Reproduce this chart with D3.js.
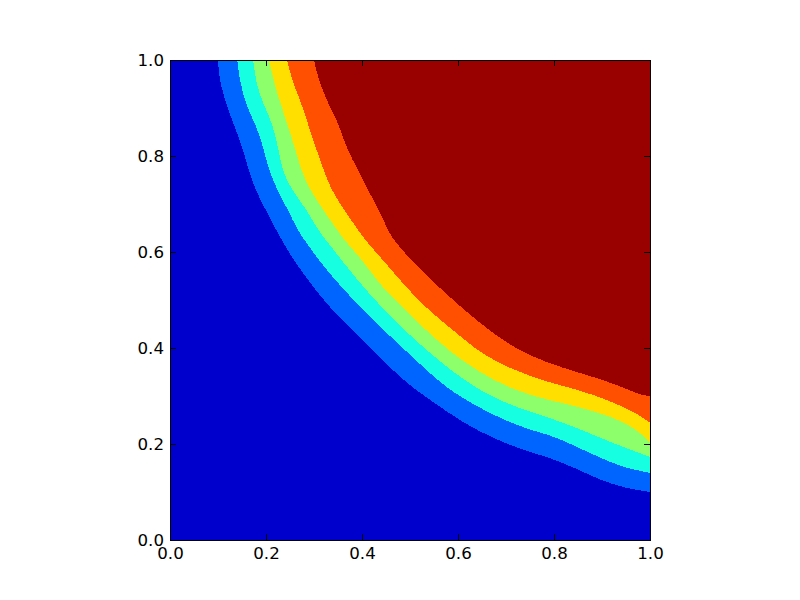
<!DOCTYPE html>
<html>
<head>
<meta charset="utf-8">
<script src="https://cdn.jsdelivr.net/npm/d3@7"></script>
<style>
  html, body { margin: 0; padding: 0; background: #ffffff; }
  svg { display: block; }
</style>
</head>
<body>
<svg id="chart" width="800" height="600"></svg>
<script>
// ---- data ----
const xTicks = [0.0, 0.2, 0.4, 0.6, 0.8, 1.0];
const yTicks = [0.0, 0.2, 0.4, 0.6, 0.8, 1.0];

// band colours (jet), from lowest band to highest
const bandColors = ["#0000cc", "#0064ff", "#16ffe1", "#8cff6b", "#ffdf00", "#ff4f00", "#990000"];

// contour boundaries, each running from the top edge to the right edge [x, y]
const boundary1 = [[0.100,1.000],[0.104,0.948],[0.125,0.885],[0.146,0.833],[0.158,0.792],[0.173,0.740],[0.196,0.694],[0.221,0.646],[0.250,0.594],[0.292,0.535],[0.333,0.483],[0.396,0.423],[0.483,0.333],[0.542,0.292],[0.610,0.244],[0.681,0.208],[0.750,0.183],[0.792,0.171],[0.844,0.150],[0.896,0.125],[0.948,0.108],[1.000,0.100]];
const boundary2 = [[0.140,1.000],[0.146,0.952],[0.160,0.902],[0.181,0.860],[0.194,0.819],[0.204,0.777],[0.223,0.729],[0.246,0.688],[0.265,0.646],[0.283,0.621],[0.313,0.579],[0.344,0.542],[0.375,0.508],[0.417,0.463],[0.479,0.406],[0.556,0.333],[0.604,0.298],[0.681,0.256],[0.750,0.229],[0.792,0.219],[0.844,0.196],[0.896,0.171],[0.948,0.150],[1.000,0.140]];
const boundary3 = [[0.173,1.000],[0.181,0.944],[0.194,0.910],[0.213,0.869],[0.225,0.819],[0.235,0.765],[0.254,0.729],[0.285,0.688],[0.308,0.646],[0.325,0.625],[0.365,0.573],[0.417,0.510],[0.463,0.4625],[0.521,0.406],[0.610,0.333],[0.681,0.292],[0.750,0.267],[0.792,0.254],[0.844,0.235],[0.896,0.213],[0.948,0.192],[1.000,0.173]];
const boundary4 = [[0.206,1.000],[0.219,0.944],[0.233,0.902],[0.246,0.860],[0.260,0.819],[0.271,0.777],[0.288,0.735],[0.319,0.688],[0.348,0.646],[0.363,0.625],[0.406,0.577],[0.4375,0.531],[0.479,0.490],[0.521,0.448],[0.583,0.392],[0.646,0.348],[0.715,0.3125],[0.785,0.292],[0.854,0.277],[0.923,0.256],[0.969,0.233],[1.000,0.204]];
const boundary5 = [[0.244,1.000],[0.254,0.958],[0.271,0.917],[0.285,0.875],[0.298,0.833],[0.308,0.806],[0.327,0.750],[0.348,0.708],[0.392,0.646],[0.406,0.625],[0.458,0.567],[0.506,0.510],[0.5625,0.458],[0.615,0.417],[0.646,0.390],[0.715,0.354],[0.785,0.329],[0.854,0.3125],[0.923,0.2875],[0.979,0.260],[1.000,0.244]];
const boundary6 = [[0.300,1.000],[0.308,0.965],[0.323,0.923],[0.340,0.890],[0.356,0.854],[0.369,0.8125],[0.392,0.771],[0.4125,0.729],[0.435,0.6875],[0.454,0.646],[0.465,0.625],[0.521,0.5625],[0.583,0.506],[0.642,0.454],[0.715,0.400],[0.785,0.369],[0.854,0.348],[0.923,0.327],[0.979,0.302],[1.000,0.300]];
const boundaries = [boundary1, boundary2, boundary3, boundary4, boundary5, boundary6];

// ---- drawing ----
const svg = d3.select("#chart");
const margin = { left: 170, top: 60, size: 480 };

const x = d3.scaleLinear().domain([0, 1]).range([margin.left, margin.left + margin.size]);
const y = d3.scaleLinear().domain([0, 1]).range([margin.top + margin.size, margin.top]);

const plot = svg.append("g");

// lowest band fills the whole plot area
plot.append("rect")
  .attr("x", x(0)).attr("y", y(1))
  .attr("width", x(1) - x(0)).attr("height", y(0) - y(1))
  .attr("fill", bandColors[0])
  .attr("shape-rendering", "crispEdges");

const line = d3.line()
  .x(d => x(d[0]))
  .y(d => y(d[1]))
  .curve(d3.curveBasis);

boundaries.forEach((b, i) => {
  const d = line(b) + `L${x(1)},${y(1)}Z`;
  plot.append("path")
    .attr("d", d)
    .attr("fill", bandColors[i + 1])
    .attr("stroke", "none")
    .attr("shape-rendering", "crispEdges");
});

const fmt = d3.format(".1f");
const tick = 6;

const gB = svg.append("g").attr("transform", `translate(0,${y(0)})`)
  .call(d3.axisBottom(x).tickValues(xTicks).tickFormat(fmt).tickSizeInner(-tick).tickSizeOuter(0).tickPadding(6));
const gL = svg.append("g").attr("transform", `translate(${x(0)},0)`)
  .call(d3.axisLeft(y).tickValues(yTicks).tickFormat(fmt).tickSizeInner(-tick).tickSizeOuter(0).tickPadding(6));
const gT = svg.append("g").attr("transform", `translate(0,${y(1)})`)
  .call(d3.axisTop(x).tickValues(xTicks).tickFormat(() => "").tickSizeInner(-tick).tickSizeOuter(0));
const gR = svg.append("g").attr("transform", `translate(${x(1)},0)`)
  .call(d3.axisRight(y).tickValues(yTicks).tickFormat(() => "").tickSizeInner(-tick).tickSizeOuter(0));

[gB, gL, gT, gR].forEach(g => {
  g.select(".domain").remove();
  g.selectAll(".tick line").attr("stroke", "#000").attr("stroke-width", 1);
  g.selectAll(".tick text").attr("font-family", "DejaVu Sans").attr("font-size", "16.67px").attr("fill", "#000");
});
gB.selectAll(".tick text").attr("dy", null).attr("y", 19);
gL.selectAll(".tick text").attr("dy", null).attr("dy", "0.35em");

// frame
svg.append("rect")
  .attr("x", x(0)).attr("y", y(1))
  .attr("width", x(1) - x(0)).attr("height", y(0) - y(1))
  .attr("fill", "none").attr("stroke", "#000").attr("stroke-width", 1)
  .attr("shape-rendering", "crispEdges");
</script>
</body>
</html>
